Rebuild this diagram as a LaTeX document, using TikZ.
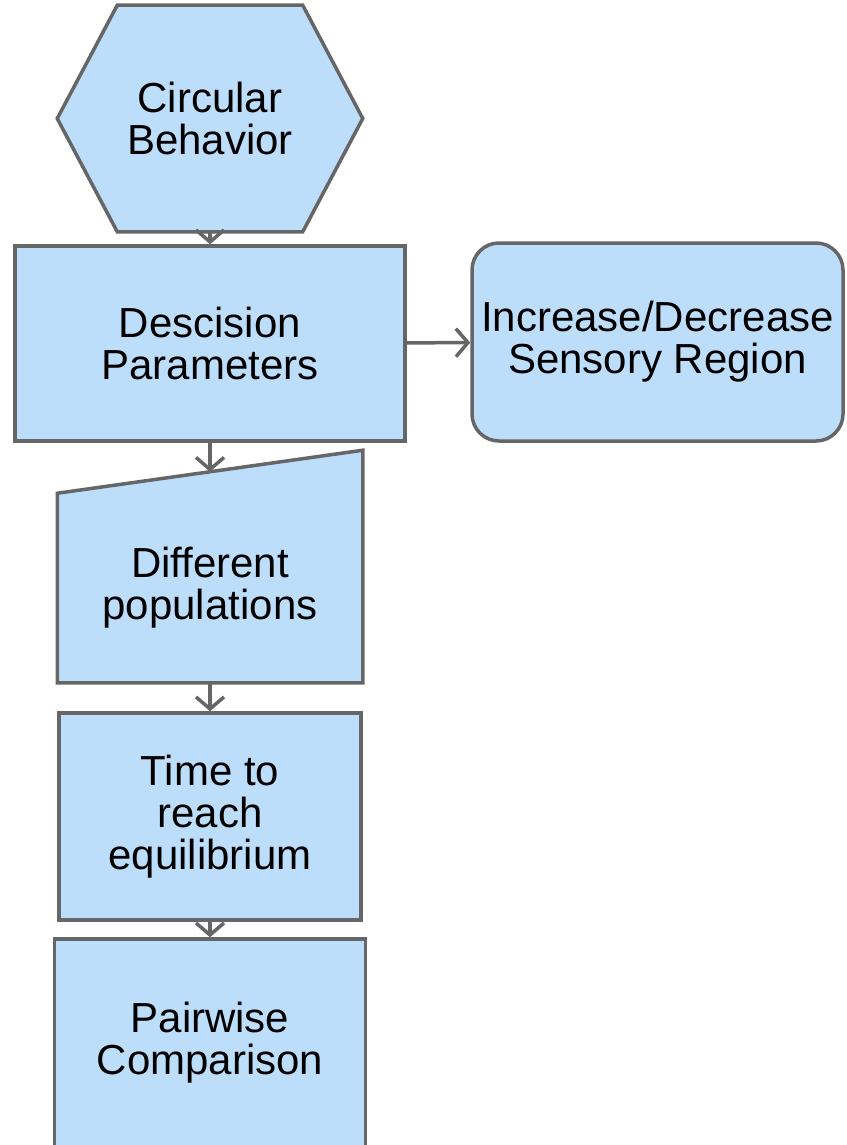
\documentclass[tikz,border=0pt]{standalone}
\usepackage{fontspec}
\setmainfont{Liberation Sans}
\usetikzlibrary{arrows.meta,backgrounds}
\definecolor{boxblue}{RGB}{189,222,251}
\definecolor{edgegray}{RGB}{102,102,102}

\begin{document}
\begin{tikzpicture}[x=1pt, y=-1pt,
  box/.style={draw=edgegray, fill=boxblue, line width=3.5pt, align=center,
    font=\fontsize{42}{42}\selectfont, inner sep=0pt},
  flow/.style={->, >={Straight Barb[length=12pt,width=28pt]}, draw=edgegray, line width=3.5pt}]
  \useasboundingbox (0,0) rectangle (846,1145);
  % hexagon: outline drawn from the node's corners
  \node[box, draw=none, fill=none, minimum width=302pt, minimum height=223pt] (circ) at (210,118.5) {Circular\\Behavior};
  \node[box, minimum width=390pt, minimum height=195pt] (param) at (210,343.5) {Descision\\Parameters};
  \node[box, rounded corners=27pt, minimum width=371pt, minimum height=198pt] (sens) at (657.5,342) {Increase/Decrease\\Sensory Region};
  % manual input: outline drawn from the node's corners
  \node[box, draw=none, fill=none, minimum width=302pt, minimum height=186pt] (pop) at (210,588) {Different\\populations};
  \begin{scope}[on background layer]
    \draw[box] (circ.west) -- ([xshift=60pt]circ.north west) -- ([xshift=-60pt]circ.north east)
      -- (circ.east) -- ([xshift=-60pt]circ.south east) -- ([xshift=60pt]circ.south west) -- cycle;
    \draw[box] (pop.south west) -- (pop.north west) -- ([yshift=43pt]pop.north east) -- (pop.south east) -- cycle;
  \end{scope}
  \coordinate (poptop) at ([yshift=21.5pt]pop.north);
  \node[box, minimum width=302pt, minimum height=207pt] (eq) at (210,816.5) {Time to\\reach\\equilibrium};
  \node[box, minimum width=311pt, minimum height=208pt] (pair) at (210,1043) {Pairwise\\Comparison};
  \draw[flow] (circ) -- (param);
  \draw[flow] (param) -- (sens);
  \draw[flow] (param) -- (poptop);
  \draw[flow] (pop) -- (eq);
  \draw[flow] (eq) -- (pair);
\end{tikzpicture}
\end{document}
